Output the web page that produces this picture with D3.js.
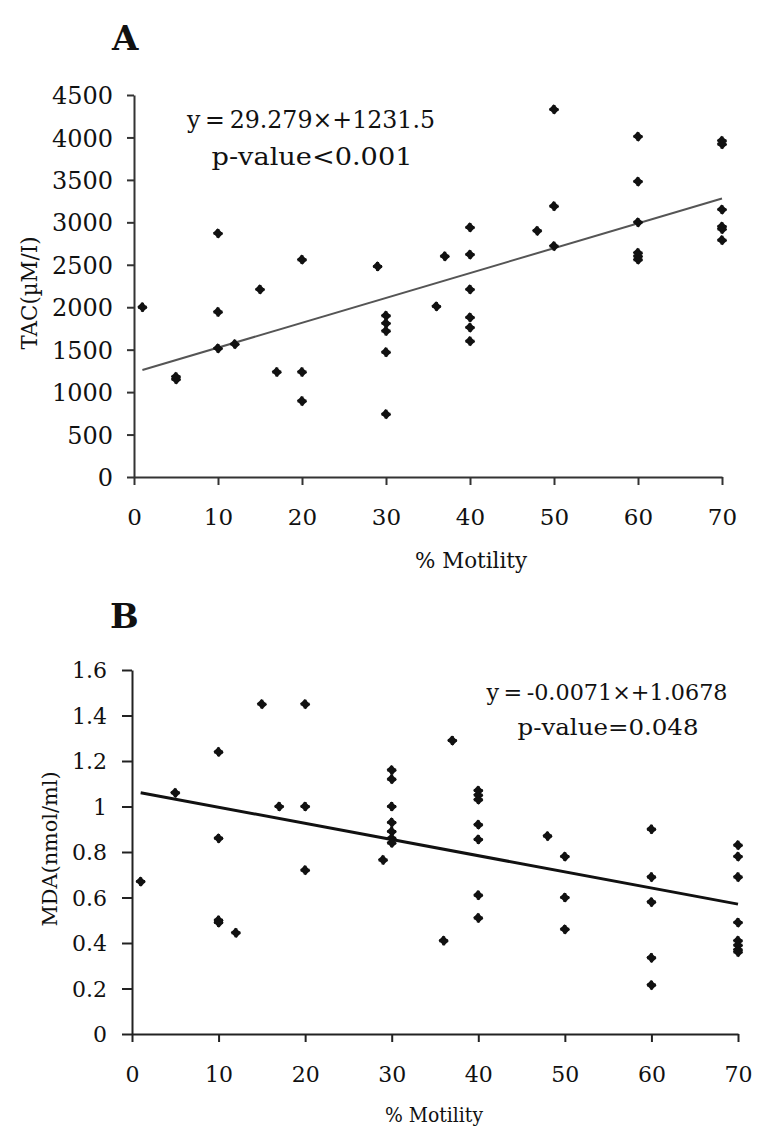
<!DOCTYPE html>
<html><head><meta charset="utf-8">
<script src="https://cdn.jsdelivr.net/npm/d3@7"></script>
<style>
body{margin:0;background:#fff;}
text{font-family:"DejaVu Serif",serif;fill:#111;}
</style></head>
<body>
<svg id="c" width="773" height="1140"></svg>
<script>
// Panel A: % Motility vs TAC
const motilityA = [1,5,5,10,10,10,12,15,17,20,20,20,29,30,30,30,30,30,36,37,40,40,40,40,40,40,48,50,50,50,60,60,60,60,60,60,70,70,70,70,70,70];
const tacA      = [2000,1150,1180,2870,1944,1515,1565,2210,1237,2560,1237,895,2480,1900,1810,1720,1470,740,2010,2600,2940,2620,2210,1880,1760,1600,2900,4330,3190,2720,4010,3480,3000,2640,2600,2560,3960,3920,3150,2950,2920,2790];
const xTicksA = [0,10,20,30,40,50,60,70];
const yTicksA = [0,500,1000,1500,2000,2500,3000,3500,4000,4500];
const fitA = {slope:29.279, intercept:1231.5, from:1, to:70};
const eqA = ["y\u2009=\u200929.279×+1231.5", "p-value<0.001"];

// Panel B: % Motility vs MDA
const motilityB = [1,5,10,10,10,10,12,15,17,20,20,20,29,30,30,30,30,30,30,30,36,37,40,40,40,40,40,40,40,48,50,50,50,60,60,60,60,60,70,70,70,70,70,70,70,70];
const mdaB      = [0.67,1.06,1.24,0.86,0.50,0.49,0.445,1.45,1.0,1.45,1.0,0.72,0.765,1.16,1.12,1.0,0.93,0.89,0.86,0.84,0.41,1.29,1.07,1.05,1.03,0.92,0.855,0.61,0.51,0.87,0.78,0.60,0.46,0.90,0.69,0.58,0.335,0.215,0.83,0.78,0.69,0.49,0.41,0.39,0.37,0.36];
const xTicksB = [0,10,20,30,40,50,60,70];
const yTicksB = [0,0.2,0.4,0.6,0.8,1,1.2,1.4,1.6];
const fitB = {slope:-0.0071, intercept:1.0678, from:1, to:70};
const eqB = ["y\u2009=\u2009-0.0071×+1.0678", "p-value=0.048"];

const svg = d3.select("#c");

function panel(cfg){
  const g = svg.append("g");
  const x = d3.scaleLinear().domain([0,70]).range([cfg.x0,cfg.x1]);
  const y = d3.scaleLinear().domain([0,cfg.ymax]).range([cfg.y0,cfg.y1]);

  g.append("text").attr("x",cfg.letterX).attr("y",cfg.letterY)
    .attr("font-size",34).style("font-weight","bold").style("font-size","34px").text(cfg.letter);

  // y axis
  const ya = g.append("g").attr("transform",`translate(${cfg.x0},0)`)
    .call(d3.axisLeft(y).tickValues(cfg.yTicks).tickSize(cfg.yTickLen).tickSizeOuter(0)
      .tickFormat(d3.format("~g")));
  ya.attr("font-size",cfg.yfs).attr("font-family","DejaVu Serif");
  ya.selectAll(".tick text")
    .attr("x",-(cfg.yTickLen+cfg.yPad)).attr("dy","0.36em")
    .attr("font-size",cfg.yfs).style("font-size",cfg.yfs+"px")
    .attr("fill","#111");
  ya.selectAll("line,path").attr("stroke",cfg.axisColor).attr("stroke-width",2);

  // x axis
  const xa = g.append("g").attr("transform",`translate(0,${cfg.y0})`)
    .call(d3.axisBottom(x).tickValues(cfg.xTicks).tickSize(8).tickSizeOuter(0));
  xa.attr("font-size",cfg.xfs).attr("font-family","DejaVu Serif");
  xa.selectAll(".tick text").attr("font-size",cfg.xfs).style("font-size",cfg.xfs+"px")
    .attr("fill","#111").attr("y",48).attr("dy",0);
  xa.selectAll("line,path").attr("stroke",cfg.axisColor).attr("stroke-width",2);

  // axis titles
  g.append("text").attr("x",cfg.xTitleX).attr("y",cfg.xTitleY).attr("text-anchor","middle")
    .attr("font-size",cfg.titleFs).attr("textLength",cfg.xTitleW).attr("lengthAdjust","spacingAndGlyphs")
    .text("% Motility");
  g.append("text").attr("transform",`translate(${cfg.yTitleX},${cfg.yTitleY}) rotate(-90)`)
    .attr("text-anchor","middle").attr("font-size",cfg.titleFs)
    .attr("textLength",cfg.yTitleW).attr("lengthAdjust","spacingAndGlyphs").text(cfg.yTitle);

  // regression line
  const f = cfg.fit;
  g.append("line")
    .attr("x1",x(f.from)).attr("y1",y(f.intercept+f.slope*f.from))
    .attr("x2",x(f.to)).attr("y2",y(f.intercept+f.slope*f.to))
    .attr("stroke",cfg.lineColor).attr("stroke-width",cfg.lineW);

  // points: diamond with small spikes
  const sym = d3.symbol().type(d3.symbolSquare).size(cfg.msize);
  const cross = d3.symbol().type(d3.symbolCross).size(cfg.msize*0.75);
  const pts = cfg.xs.map((v,i)=>[v,cfg.ys[i]]);
  g.selectAll("path.pt").data(pts).join("path")
    .attr("class","pt").attr("d",sym)
    .attr("transform",d=>`translate(${x(d[0])},${y(d[1])}) rotate(45) scale(1,0.9)`)
    .attr("fill","#111");
  g.selectAll("path.pc").data(pts).join("path")
    .attr("class","pc").attr("d",cross)
    .attr("transform",d=>`translate(${x(d[0])},${y(d[1])})`)
    .attr("fill","#111");

  // equation text
  cfg.eq.forEach((t,i)=>{
    g.append("text").attr("x",cfg.eqX[i]).attr("y",cfg.eqY[i]).attr("text-anchor","middle")
      .attr("font-size",cfg.eqFs).attr("textLength",cfg.eqW[i]).attr("lengthAdjust","spacingAndGlyphs")
      .text(t);
  });
}

panel({letter:"A",letterX:112,letterY:50,x0:134,x1:722,y0:477,y1:95,ymax:4500,
  xTicks:xTicksA,yTicks:yTicksA,yTickLen:7,yPad:14,xfs:23,yfs:24,axisColor:"#333",
  xTitleX:471,xTitleY:568,titleFs:22,xTitleW:112,yTitle:"TAC(µM/I)",yTitleX:37,yTitleY:293,yTitleW:113,
  fit:fitA,lineColor:"#555",lineW:2,xs:motilityA,ys:tacA,msize:58,
  eq:eqA,eqX:[311,312],eqY:[128,165],eqFs:24,eqW:[248,201]});

panel({letter:"B",letterX:110,letterY:628,x0:132,x1:738,y0:1034,y1:670,ymax:1.6,
  xTicks:xTicksB,yTicks:yTicksB,yTickLen:10,yPad:15,xfs:22,yfs:22,axisColor:"#222",
  xTitleX:434,xTitleY:1122,titleFs:20,xTitleW:98,yTitle:"MDA(nmol/ml)",yTitleX:57,yTitleY:849,yTitleW:155,
  fit:fitB,lineColor:"#111",lineW:3,xs:motilityB,ys:mdaB,msize:58,
  eq:eqB,eqX:[607,608],eqY:[700,735],eqFs:22,eqW:[241,181]});
</script>
</body></html>
